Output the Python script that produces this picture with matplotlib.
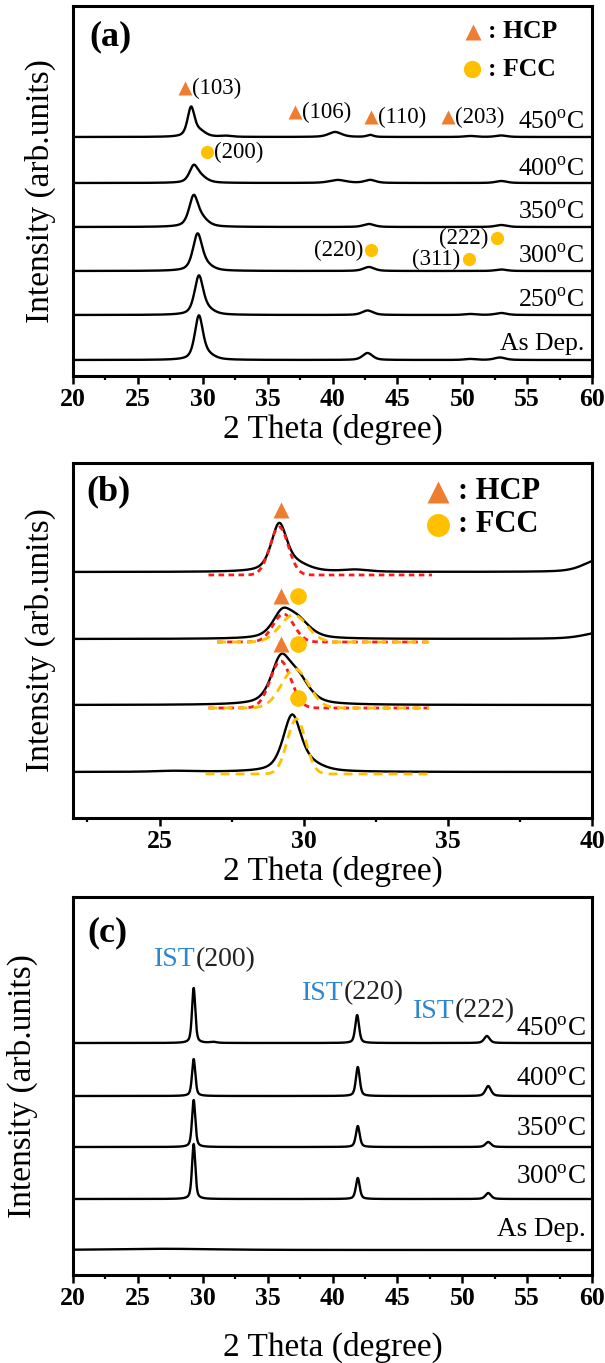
import numpy as np
import matplotlib
matplotlib.use("Agg")
import matplotlib.pyplot as plt
from matplotlib.ticker import MultipleLocator

plt.rcParams['font.family'] = ['Liberation Serif', 'DejaVu Serif']
plt.rcParams['mathtext.fontset'] = 'custom'
plt.rcParams['mathtext.rm'] = 'Liberation Serif'

ORANGE = '#ED7D31'
GOLD = '#FFC000'
BLUE = '#2E86D0'

# ---------------- data: panel (a) ----------------
a_labels = ['As Dep.', '250$^{\\mathrm{o}}$C', '300$^{\\mathrm{o}}$C',
            '350$^{\\mathrm{o}}$C', '400$^{\\mathrm{o}}$C', '450$^{\\mathrm{o}}$C']
a_offsets = [16, 61, 105, 149, 193, 239]
a_label_y = [32, 76, 120, 164, 207, 254]
a_peak_pos = [[29.7, 30.4, 42.7, 50.6, 52.9],
              [29.7, 30.4, 42.7, 50.6, 53.0],
              [29.6, 30.3, 42.8, 53.0],
              [29.3, 30.0, 42.8, 53.0],
              [29.3, 29.9, 40.4, 42.9, 53.0],
              [29.1, 29.8, 31.8, 40.2, 42.9, 50.6, 53.0]]
a_peak_h = [[43, 4, 7, 1, 2.5],
            [38, 4, 4.5, 1, 2],
            [36, 4, 4, 1.5],
            [30, 6, 3, 2],
            [16, 5, 3, 3, 2],
            [29, 5, 1, 5, 2, 1, 1.5]]
a_peak_w = [[0.75, 1.2, 0.9, 1.0, 1.0],
            [0.8, 1.2, 1.0, 1.0, 1.0],
            [0.85, 1.2, 1.0, 1.0],
            [0.85, 1.1, 1.0, 1.0],
            [0.8, 1.1, 1.5, 1.0, 1.0],
            [0.65, 1.0, 1.0, 1.2, 0.6, 1.0, 1.0]]
a_hcp = [(28.63, 288, '(103)'), (37.1, 264, '(106)'), (42.95, 259, '(110)'), (48.9, 259, '(203)')]
a_fcc = [(30.3, 224, '(200)', 'r'), (43.0, 126, '(220)', 'l'),
         (52.7, 138, '(222)', 'l'), (50.5, 117, '(311)', 'l')]

# ---------------- data: panel (b) ----------------
b_offsets = [46, 113, 179, 246]
b_peak_pos = [[25.5, 29.6, 30.3],
              [29.2, 29.8],
              [29.25, 29.8, 40.4],
              [29.15, 29.8, 31.8, 40.2]]
b_peak_h = [[1, 56, 5],
            [42, 24],
            [23, 17, 7],
            [47, 6, 2, 12]]
b_peak_w = [[1.5, 0.75, 1.0],
            [0.8, 0.95],
            [0.8, 1.0, 1.5],
            [0.65, 1.0, 1.0, 1.2]]
b_fit_base = [44, 110, 176, 243]
b_fit_red = [None, (29.2, 47, 0.85), (29.3, 28, 0.85), (29.15, 48, 0.75)]
b_fit_gold = [(29.75, 55, 0.75), (29.7, 39, 1.1), (29.65, 27, 1.1), None]
b_fit_range = [(26.6, 34.35), (26.7, 34.35), (27.0, 34.35), (26.7, 34.45)]
b_hcp = [(29.2, 174), (29.2, 222), (29.2, 308)]
b_fcc = [(29.8, 120), (29.8, 174), (29.8, 222)]

# ---------------- data: panel (c) ----------------
c_labels = ['As Dep.', '300$^{\\mathrm{o}}$C', '350$^{\\mathrm{o}}$C',
            '400$^{\\mathrm{o}}$C', '450$^{\\mathrm{o}}$C']
c_offsets = [25, 76, 128, 179, 232]
c_label_y = [45, 97, 146, 195, 246]
c_peak_pos = [[27.0],
              [29.3, 41.95, 52.0],
              [29.3, 41.95, 52.0],
              [29.3, 41.95, 52.0],
              [29.3, 30.8, 41.9, 51.9]]
c_peak_h = [[1.2],
            [55, 21, 6],
            [47, 21, 5],
            [37, 29, 10],
            [55, 1, 28, 7]]
c_peak_w = [[9.0],
            [0.3, 0.35, 0.5],
            [0.3, 0.35, 0.5],
            [0.3, 0.35, 0.5],
            [0.3, 0.6, 0.35, 0.5]]
c_ist = [(26.27, 315, '(200)'), (37.65, 282, '(220)'), (46.2, 264, '(222)')]


def pv(x, pos, h, w, eta=0.55):
    y = np.zeros_like(x)
    for p, hh, ww in zip(pos, h, w):
        d = (x - p) / (ww / 2.0)
        lor = 1.0 / (1.0 + d ** 2)
        gau = np.exp(-np.log(2) * d ** 2)
        y += hh * (eta * lor + (1 - eta) * gau)
    return y


def gauss(x, p, h, w):
    return h * np.exp(-4 * np.log(2) * ((x - p) / w) ** 2)


def style_axes(ax, xlim, ylim, major, minor):
    ax.set_xlim(*xlim)
    ax.set_ylim(*ylim)
    ax.set_yticks([])
    ax.xaxis.set_major_locator(MultipleLocator(major))
    ax.xaxis.set_minor_locator(MultipleLocator(minor))
    ax.tick_params(axis='x', which='major', direction='out', length=5.5, width=1.8,
                   labelsize=18.5, pad=3)
    ax.tick_params(axis='x', which='minor', direction='out', length=3, width=1.6)
    for lbl in ax.get_xticklabels():
        lbl.set_fontweight('bold')
    for s in ax.spines.values():
        s.set_linewidth(2.2)
    ax.set_ylabel('Intensity (arb.units)', fontsize=24)


fig = plt.figure(figsize=(6.05, 13.63), dpi=100)
L, W = 73 / 605, 519 / 605
ax_a = fig.add_axes([L, 1 - 376 / 1363, W, 370 / 1363])
ax_b = fig.add_axes([L, 1 - 818 / 1363, W, 355 / 1363])
ax_c = fig.add_axes([L, 1 - 1275 / 1363, W, 378 / 1363])

LW = 1.7

# ---------- (a) ----------
xa = np.linspace(20, 60, 3000)
for off, pos, h, w in zip(a_offsets, a_peak_pos, a_peak_h, a_peak_w):
    ax_a.plot(xa, off + pv(xa, pos, h, w), color='black', lw=LW)
for lab, yy in zip(a_labels, a_label_y):
    ax_a.text(59.4, yy, lab, ha='right', va='center', fontsize=18.5)
for x0, y0, t in a_hcp:
    ax_a.plot(x0, y0, marker='^', color=ORANGE, ms=10.5, mec='none')
    ax_a.text(x0 + 0.55, y0, t, ha='left', va='center', fontsize=16.5)
for x0, y0, t, side in a_fcc:
    ax_a.plot(x0, y0, marker='o', color=GOLD, ms=9.5, mec='none')
    if side == 'r':
        ax_a.text(x0 + 0.55, y0, t, ha='left', va='center', fontsize=16.5)
    else:
        ax_a.text(x0 - 0.65, y0, t, ha='right', va='center', fontsize=16.5)
ax_a.plot(50.8, 344, marker='^', color=ORANGE, ms=12, mec='none')
ax_a.text(52.0, 344, ': HCP', ha='left', va='center', fontsize=18.5, fontweight='bold')
ax_a.plot(50.75, 307, marker='o', color=GOLD, ms=12.5, mec='none')
ax_a.text(52.0, 307, ': FCC', ha='left', va='center', fontsize=18.5, fontweight='bold')
ax_a.text(21.3, 339, '(a)', ha='left', va='center', fontsize=26, fontweight='bold')
style_axes(ax_a, (20, 60), (0, 370), 5, 2.5)
ax_a.set_xlabel('2 Theta (degree)', fontsize=24, labelpad=2)
ax_a.yaxis.set_label_coords(-0.033, 0.5)

# ---------- (b) ----------
xb = np.linspace(22, 40, 2000)
for off, pos, h, w in zip(b_offsets, b_peak_pos, b_peak_h, b_peak_w):
    ax_b.plot(xb, off + pv(xb, pos, h, w), color='black', lw=LW, zorder=3)
for base, red, gold, rng in zip(b_fit_base, b_fit_red, b_fit_gold, b_fit_range):
    xf = np.linspace(rng[0], rng[1], 600)
    if red is not None:
        ax_b.plot(xf, base + gauss(xf, *red), color='#FF1A1A', lw=2.0,
                  ls=(0, (2.0, 1.6)), zorder=4)
    if gold is not None:
        ax_b.plot(xf, base + gauss(xf, *gold), color=GOLD, lw=2.0,
                  ls=(0, (3.2, 2.2)), zorder=5)
for x0, y0 in b_hcp:
    ax_b.plot(x0, y0, marker='^', color=ORANGE, ms=11, mec='none', zorder=6)
for x0, y0 in b_fcc:
    ax_b.plot(x0, y0, marker='o', color=GOLD, ms=12, mec='none', zorder=6)
ax_b.plot(34.67, 326, marker='^', color=ORANGE, ms=15.5, mec='none')
ax_b.text(35.35, 326, ': HCP', ha='left', va='center', fontsize=22, fontweight='bold')
ax_b.plot(34.67, 293, marker='o', color=GOLD, ms=16.5, mec='none')
ax_b.text(35.35, 293, ': FCC', ha='left', va='center', fontsize=22, fontweight='bold')
ax_b.text(22.45, 326, '(b)', ha='left', va='center', fontsize=26, fontweight='bold')
style_axes(ax_b, (22, 40), (0, 355), 5, 2.5)
ax_b.set_xlabel('2 Theta (degree)', fontsize=24, labelpad=2)
ax_b.yaxis.set_label_coords(-0.033, 0.5)

# ---------- (c) ----------
xc = np.linspace(20, 60, 4000)
for off, pos, h, w in zip(c_offsets, c_peak_pos, c_peak_h, c_peak_w):
    ax_c.plot(xc, off + pv(xc, pos, h, w, eta=0.5), color='black', lw=LW)
for lab, yy in zip(c_labels, c_label_y):
    ax_c.text(59.5, yy, lab, ha='right', va='center', fontsize=19.5)
for x0, y0, t in c_ist:
    tx = ax_c.text(x0, y0, 'IST', ha='left', va='center', fontsize=20, color=BLUE)
    ax_c.annotate(t, xycoords=tx, xy=(1, 0.5), va='center', ha='left',
                  fontsize=20, color='#222222')
ax_c.text(21.1, 342, '(c)', ha='left', va='center', fontsize=26, fontweight='bold')
style_axes(ax_c, (20, 60), (0, 378), 5, 2.5)
ax_c.set_xlabel('2 Theta (degree)', fontsize=24, labelpad=16)
ax_c.yaxis.set_label_coords(-0.068, 0.5)

fig.savefig('out.png', dpi=100)
